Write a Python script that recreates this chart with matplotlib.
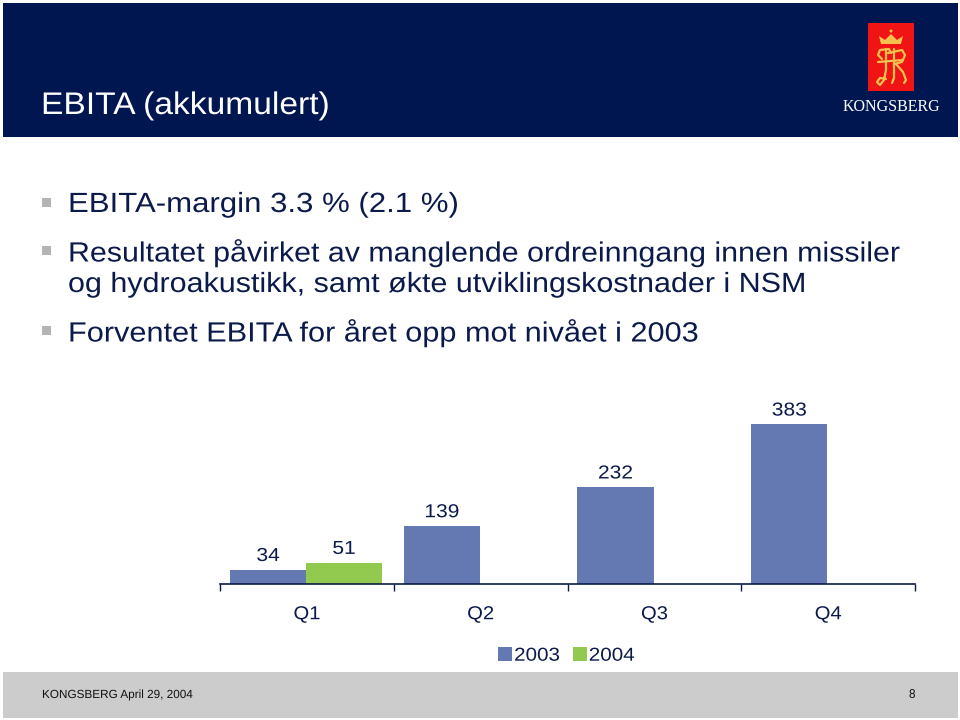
import matplotlib
matplotlib.use("Agg")
import matplotlib.pyplot as plt
import numpy as np
from matplotlib.patches import Rectangle, Polygon, Circle
from matplotlib.patheffects import AbstractPathEffect
from matplotlib.transforms import Affine2D

plt.rcParams['font.family'] = ['Liberation Sans', 'DejaVu Sans']

quarters = ['Q1', 'Q2', 'Q3', 'Q4']
values_2003 = [34, 139, 232, 383]
values_2004 = [51, np.nan, np.nan, np.nan]
bullets = [
    ['EBITA-margin 3.3 % (2.1 %)'],
    ['Resultatet påvirket av manglende ordreinngang innen missiler',
     'og hydroakustikk, samt økte utviklingskostnader i NSM'],
    ['Forventet EBITA for året opp mot nivået i 2003'],
]
bullet_y = [[203], [251, 283], [331]]
bullet_stretch = [[1.122], [1.093, 1.097], [1.105]]

NAVY = '#001650'
TEXT = '#0b1a4a'
BLUE = '#6478b1'
GREEN = '#92c94f'
GOLD = '#f2c14e'

W, H = 960, 720


class Stretch(AbstractPathEffect):
    # the slide text is letter spaced, matplotlib can't do that so widen the line instead
    def __init__(self, sx, center=False):
        super().__init__()
        self.sx = sx
        self.center = center

    def draw_path(self, renderer, gc, tpath, affine, rgbFace=None):
        xs = affine.transform(tpath.vertices)[:, 0]
        x0 = (xs.min() + xs.max()) / 2 if self.center else xs.min()
        t = affine + Affine2D().translate(-x0, 0).scale(self.sx, 1).translate(x0, 0)
        renderer.draw_path(gc, tpath, t, rgbFace)


fig = plt.figure(figsize=(9.6, 7.2), dpi=100, facecolor='white')

# full figure overlay in pixel coordinates for the slide furniture
bg = fig.add_axes([0, 0, 1, 1])
bg.set_xlim(0, W)
bg.set_ylim(H, 0)
bg.axis('off')

bg.add_patch(Rectangle((3, 3), 955, 134, color=NAVY, lw=0))
bg.add_patch(Rectangle((3, 672), 955, 46, color='#cccccc', lw=0))
bg.text(41, 106, 'EBITA (akkumulert)', color='white', fontsize=22.5, va='center',
        path_effects=[Stretch(1.075)])

for lines, ys, stretches in zip(bullets, bullet_y, bullet_stretch):
    bg.add_patch(Rectangle((42, ys[0] - 5), 9, 9, color='#b4b4b4', lw=0))
    for line, y, sx in zip(lines, ys, stretches):
        bg.text(68, y + 2, line, color=TEXT, fontsize=20, va='center',
                path_effects=[Stretch(sx)])

# logo
bg.add_patch(Rectangle((868, 23), 46, 68, color='#f01414', lw=0))
bg.add_patch(Polygon([(881, 44), (879, 36), (885, 40), (891, 34), (897, 40), (903, 36), (901, 44)],
                     closed=True, color=GOLD, lw=0))
bg.add_patch(Circle((891, 31), 1.5, color=GOLD, lw=0))
monogram = [
    ([882, 878, 880, 889, 891], [59, 55, 50, 49, 53]),
    ([886, 886, 884, 880, 877, 880, 886], [49, 70, 80, 85, 82, 78, 79]),
    ([894, 894, 892], [49, 78, 83]),
    ([888, 902, 905, 902, 894], [53, 50, 55, 62, 64]),
    ([896, 903, 906, 904], [64, 72, 80, 83]),
    ([878, 903], [62, 60]),
]
for mx, my in monogram:
    bg.plot(mx, my, color=GOLD, lw=1.6, solid_capstyle='round')
bg.text(891.5, 107, 'KONGSBERG', color='white', fontsize=11.5, family='Liberation Serif',
        ha='center', va='center')

bg.text(42, 695, 'KONGSBERG April 29, 2004', color='#111111', fontsize=8.5, va='center',
        path_effects=[Stretch(0.995)])
bg.text(915, 695, '8', color='#111111', fontsize=8.5, ha='right', va='center')

# bar chart
ax = fig.add_axes([220 / W, 1 - 584 / H, 695 / W, 160 / H])
ax.patch.set_alpha(0)
x = np.arange(len(quarters))
bar_w = 0.4375
b1 = ax.bar(x + 0.495 - bar_w / 2, values_2003, bar_w, color=BLUE, label='2003')
b2 = ax.bar(x + 0.495 + bar_w / 2, values_2004, bar_w, color=GREEN, label='2004')
ax.set_xlim(0, 4)
ax.set_ylim(0, 384)
stretch = [Stretch(1.12, center=True)]
for t in ax.bar_label(b1, padding=3.5, fontsize=13.5, color=TEXT):
    t.set_path_effects(stretch)
for t in ax.bar_label(b2, labels=['51', '', '', ''], padding=3.5, fontsize=13.5, color=TEXT):
    t.set_path_effects(stretch)
ax.yaxis.set_visible(False)
for s in ['top', 'left', 'right']:
    ax.spines[s].set_visible(False)
ax.spines['bottom'].set_color(TEXT)
ax.spines['bottom'].set_linewidth(1.2)
ax.set_xticks(np.arange(5))
ax.set_xticklabels([])
ax.set_xticks(x + 0.5, quarters, minor=True, fontsize=13.5, color=TEXT)
ax.tick_params(axis='x', which='major', length=5, width=1, color=TEXT, direction='out')
ax.tick_params(axis='x', which='minor', length=0, pad=16)
for t in ax.get_xticklabels(minor=True):
    t.set_path_effects([Stretch(1.08, center=True)])

leg = fig.legend(handles=[b1, b2], loc='center', bbox_to_anchor=(564.5 / W, 1 - 656 / H), ncol=2,
                 frameon=False, fontsize=13.5, labelcolor=TEXT, handlelength=0.75, handleheight=0.75,
                 handletextpad=0.09, columnspacing=0.91, borderpad=0)
for t in leg.get_texts():
    t.set_path_effects([Stretch(1.1)])

fig.savefig('out.png', dpi=100)
